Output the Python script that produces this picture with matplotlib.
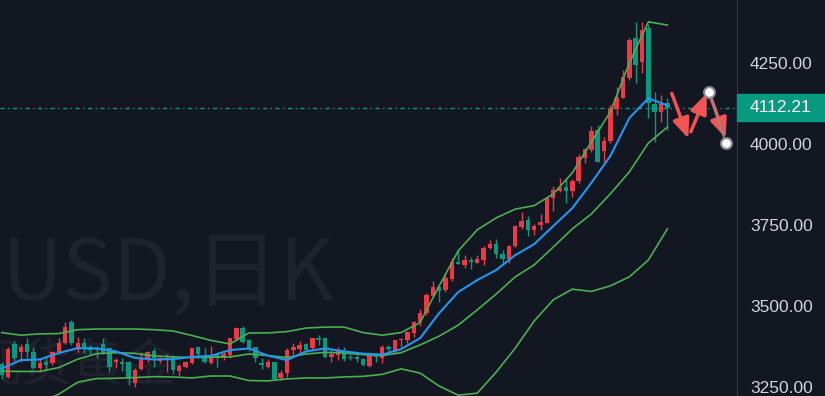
import matplotlib.pyplot as plt
from matplotlib.patches import Rectangle
import numpy as np

# daily candles (index 0 = leftmost visible)
opens = [3321, 3281, 3383, 3358, 3383, 3358, 3308, 3327, 3324, 3358,
         3386, 3450, 3367, 3386, 3373, 3367, 3383, 3370, 3327, 3327,
         3327, 3262, 3305, 3339, 3361, 3330, 3333, 3342, 3299, 3311,
         3324, 3373, 3345, 3324, 3352, 3339, 3349, 3398, 3432, 3395,
         3373, 3324, 3311, 3327, 3278, 3293, 3364, 3367, 3383, 3370,
         3401, 3401, 3343, 3349, 3358, 3343, 3342, 3336, 3315, 3349,
         3339, 3373, 3361, 3395, 3395, 3416, 3450, 3478, 3531, 3558,
         3549, 3583, 3636, 3627, 3642, 3633, 3642, 3679, 3691, 3660,
         3645, 3685, 3744, 3765, 3735, 3750, 3756, 3833, 3855, 3867,
         3855, 3886, 3957, 3981, 4043, 3978, 4009, 4108, 4142, 4204,
         4327, 4253, 4358, 4123, 4099, 4126]
highs = [3327, 3373, 3392, 3383, 3401, 3373, 3339, 3345, 3361, 3401,
         3450, 3457, 3404, 3401, 3380, 3376, 3401, 3373, 3339, 3339,
         3330, 3308, 3358, 3361, 3370, 3342, 3352, 3349, 3321, 3330,
         3370, 3373, 3370, 3376, 3355, 3361, 3401, 3435, 3438, 3398,
         3373, 3339, 3336, 3327, 3302, 3370, 3386, 3392, 3386, 3401,
         3410, 3404, 3364, 3373, 3373, 3352, 3349, 3339, 3355, 3355,
         3380, 3380, 3395, 3401, 3423, 3453, 3490, 3540, 3577, 3562,
         3602, 3648, 3676, 3657, 3651, 3657, 3685, 3704, 3707, 3673,
         3688, 3750, 3790, 3778, 3753, 3784, 3836, 3870, 3895, 3895,
         3892, 3969, 3988, 4055, 4058, 4021, 4120, 4176, 4228, 4327,
         4376, 4376, 4370, 4160, 4151, 4142]
lows = [3275, 3278, 3330, 3327, 3339, 3305, 3296, 3305, 3318, 3352,
        3383, 3380, 3358, 3355, 3352, 3339, 3352, 3296, 3308, 3299,
        3256, 3250, 3302, 3327, 3312, 3324, 3296, 3290, 3284, 3308,
        3321, 3339, 3324, 3321, 3312, 3333, 3339, 3392, 3386, 3361,
        3327, 3305, 3308, 3272, 3272, 3281, 3349, 3352, 3358, 3367,
        3380, 3339, 3327, 3333, 3330, 3333, 3327, 3315, 3312, 3327,
        3324, 3361, 3352, 3373, 3386, 3404, 3438, 3472, 3528, 3512,
        3543, 3577, 3630, 3617, 3614, 3633, 3627, 3676, 3648, 3630,
        3633, 3682, 3738, 3716, 3719, 3735, 3756, 3793, 3852, 3818,
        3836, 3880, 3941, 3975, 3944, 3944, 4003, 4089, 4142, 4197,
        4188, 4219, 4080, 4006, 4068, 4043]
closes = [3287, 3367, 3339, 3373, 3358, 3308, 3324, 3318, 3358, 3386,
          3435, 3386, 3386, 3367, 3364, 3364, 3355, 3312, 3333, 3321,
          3278, 3302, 3339, 3358, 3339, 3339, 3340, 3302, 3315, 3327,
          3370, 3352, 3327, 3349, 3339, 3352, 3401, 3432, 3389, 3370,
          3339, 3318, 3327, 3275, 3293, 3364, 3373, 3380, 3364, 3401,
          3395, 3342, 3352, 3364, 3336, 3339, 3338, 3318, 3349, 3343,
          3373, 3367, 3395, 3398, 3420, 3450, 3478, 3534, 3558, 3546,
          3586, 3636, 3630, 3642, 3635, 3645, 3679, 3691, 3660, 3645,
          3685, 3747, 3762, 3735, 3747, 3759, 3833, 3858, 3864, 3855,
          3886, 3960, 3985, 4040, 3944, 4009, 4108, 4142, 4207, 4321,
          4244, 4352, 4126, 4099, 4123, 4112.21]

# indicator lines, read every third candle
line_idx = list(range(0, 106, 3))
bb_upper = [3418, 3410, 3414, 3415, 3427, 3429, 3429, 3429, 3427, 3423,
            3409, 3394, 3383, 3417, 3417, 3421, 3432, 3435, 3435, 3418,
            3410, 3418, 3449, 3562, 3670, 3735, 3772, 3799, 3810, 3846,
            3911, 4006, 4099, 4250, 4377, 4367]
bb_mid = [3299, 3298, 3298, 3310, 3336, 3353, 3356, 3354, 3346, 3343,
          3341, 3342, 3343, 3352, 3347, 3341, 3352, 3357, 3355, 3350,
          3347, 3356, 3380, 3407, 3441, 3488, 3537, 3590, 3627, 3682,
          3738, 3784, 3846, 3914, 4003, 4052]
ma_blue = [3307, 3333, 3335, 3355, 3370, 3369, 3360, 3340, 3335, 3336,
           3343, 3346, 3364, 3369, 3347, 3333, 3360, 3369, 3360, 3353,
           3350, 3367, 3401, 3478, 3543, 3580, 3611, 3657, 3691, 3747,
           3802, 3880, 3963, 4080, 4141, 4119]
lower_idx = [8] + list(range(9, 106, 3))
bb_lower = [3219, 3228, 3265, 3276, 3277, 3279, 3282, 3281, 3278, 3284,
            3284, 3270, 3269, 3275, 3278, 3278, 3281, 3283, 3289, 3306,
            3293, 3253, 3225, 3231, 3296, 3370, 3454, 3519, 3552, 3545,
            3562, 3590, 3642, 3738]

last_price = 4112.21
price_ticks = [3250, 3500, 3750, 4000, 4250]

# hand-drawn projection: arrows and the two marker points
arrow_starts = [(105.7, 4156), (108.7, 4038), (111.8, 4146)]
arrow_ends = [(108.3, 4017), (111.2, 4156), (114.2, 4018)]
marker_x = [111.6, 114.2]
marker_y = [4161, 4002]

bg = '#131722'
up_col = '#f23645'
down_col = '#089981'

fig = plt.figure(figsize=(8.25, 3.96), dpi=100, facecolor=bg)
ax = fig.add_axes([0, 0, 737 / 825, 1])
ax.set_facecolor(bg)

# watermark
ax.text(2 / 737, 1 - 300 / 396, 'USD,日K', transform=ax.transAxes, fontsize=61,
        color='#1e222d', family=['Noto Sans CJK SC', 'DejaVu Sans'],
        va='baseline', ha='left', zorder=0)
ax.text(-30 / 737, 1 - 340 / 396, '现货黄金', transform=ax.transAxes, fontsize=37,
        color='#1e222d', family=['Noto Sans CJK SC', 'DejaVu Sans'],
        va='top', ha='left', zorder=0, clip_on=True)

x = np.arange(len(opens))
o = np.array(opens)
c = np.array(closes)
cols = [up_col if cc >= oo else down_col for oo, cc in zip(o, c)]
ax.vlines(x, lows, highs, colors=cols, lw=1, zorder=2)
body = np.maximum(np.abs(c - o), 2.5)
ax.bar(x, body, bottom=np.minimum(o, c), width=0.7, color=cols, zorder=3)

green = '#4caf50'
ax.plot(line_idx, bb_upper, color=green, lw=1.2, zorder=4)
ax.plot(line_idx, bb_mid, color=green, lw=1.2, zorder=4)
ax.plot(lower_idx, bb_lower, color=green, lw=1.2, zorder=4)
ax.plot(line_idx, ma_blue, color='#2196f3', lw=1.5, zorder=4)

ax.axhline(last_price, color=down_col, lw=1, ls=(0, (3, 2.5, 1, 2.5)), zorder=1)

for s, e in zip(arrow_starts, arrow_ends):
    ax.annotate('', xy=e, xytext=s,
                arrowprops=dict(arrowstyle='-|>,head_length=1.2,head_width=0.5',
                                color='#f05454', lw=2.5, shrinkA=0, shrinkB=0),
                zorder=5)
ax.plot(marker_x, marker_y, color='#8a8d96', lw=1.2, zorder=5)
ax.scatter(marker_x, marker_y, s=60, facecolor='white', edgecolor='#8a8d96',
           linewidth=1.5, zorder=6)

ax.set_xlim(-0.27, 115.98)
ax.set_ylim(3222.3, 4444.4)

for side in ['top', 'left', 'bottom']:
    ax.spines[side].set_visible(False)
ax.spines['right'].set_color('#363a45')
ax.set_xticks([])
ax.yaxis.tick_right()
ax.set_yticks(price_ticks)
ax.set_yticklabels([f'{p:.2f}' for p in price_ticks])
ax.tick_params(axis='y', length=0, pad=9.4, labelcolor='#d1d4dc', labelsize=12.5)
for lab in ax.get_yticklabels():
    lab.set_family('Liberation Sans')

tr = ax.get_yaxis_transform()
ax.add_patch(Rectangle((1.0, last_price - 41), 0.125, 82, transform=tr,
                       color=down_col, clip_on=False, zorder=6))
ax.text(750 / 737, last_price, f'{last_price:.2f}', transform=tr, color='white',
        fontsize=12.5, family='Liberation Sans', va='center', ha='left',
        clip_on=False, zorder=7)

fig.savefig('out.png', dpi=100, facecolor=bg)
